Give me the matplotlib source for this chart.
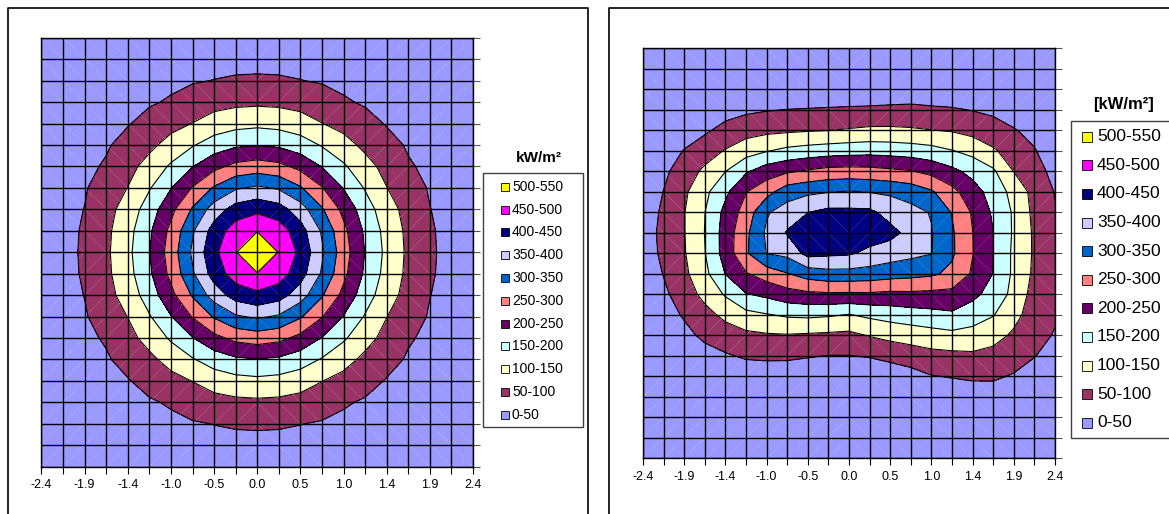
import numpy as np
import matplotlib.pyplot as plt
from matplotlib.patches import Rectangle
from matplotlib.collections import LineCollection

plt.rcParams['font.family'] = ['Liberation Sans', 'DejaVu Sans']

# grid positions along the x axis and their labels (every second one shown)
x_vals = [-2.4, -2.16, -1.92, -1.68, -1.44, -1.2, -0.96, -0.72, -0.48, -0.24, 0.0,
          0.24, 0.48, 0.72, 0.96, 1.2, 1.44, 1.68, 1.92, 2.16, 2.4]
x_labels = ['-2.4', '', '-1.9', '', '-1.4', '', '-1.0', '', '-0.5', '', '0.0',
            '', '0.5', '', '1.0', '', '1.4', '', '1.9', '', '2.4']

bands = ['0-50', '50-100', '100-150', '150-200', '200-250', '250-300',
         '300-350', '350-400', '400-450', '450-500', '500-550']
band_colors = ['#9999FF', '#993366', '#FFFFCC', '#CCFFFF', '#660066', '#FF8080',
               '#0066CC', '#CCCCFF', '#000080', '#FF00FF', '#FFFF00']
levels = [0, 50, 100, 150, 200, 250, 300, 350, 400, 450, 500, 550]

# heat flux, kW/m2 - left chart (rows top to bottom)
flux_left = [
    [5, 8, 11, 14, 17, 19, 21, 23, 24, 25, 25, 25, 24, 23, 21, 19, 17, 14, 11, 8, 5],
    [8, 12, 15, 18, 21, 24, 27, 31, 34, 36, 37, 36, 34, 31, 27, 24, 21, 18, 15, 12, 8],
    [11, 15, 19, 22, 25, 33, 40, 46, 51, 55, 56, 55, 51, 46, 40, 33, 25, 22, 19, 15, 11],
    [14, 18, 22, 27, 37, 45, 55, 72, 83, 89, 91, 89, 83, 72, 55, 45, 37, 27, 22, 18, 14],
    [17, 21, 25, 37, 47, 66, 85, 101, 121, 133, 138, 133, 121, 101, 85, 66, 47, 37, 25, 21, 17],
    [19, 24, 33, 45, 66, 89, 117, 146, 174, 192, 198, 192, 174, 146, 117, 89, 66, 45, 33, 24, 19],
    [21, 27, 40, 55, 85, 117, 157, 198, 236, 263, 273, 263, 236, 198, 157, 117, 85, 55, 40, 27, 21],
    [23, 31, 46, 72, 101, 146, 198, 253, 305, 344, 358, 344, 305, 253, 198, 146, 101, 72, 46, 31, 23],
    [24, 34, 51, 83, 121, 174, 236, 305, 373, 421, 438, 421, 373, 305, 236, 174, 121, 83, 51, 34, 24],
    [25, 36, 55, 89, 133, 192, 263, 344, 421, 475, 498, 475, 421, 344, 263, 192, 133, 89, 55, 36, 25],
    [25, 37, 56, 91, 138, 198, 273, 358, 438, 498, 540, 498, 438, 358, 273, 198, 138, 91, 56, 37, 25],
    [25, 36, 55, 89, 133, 192, 263, 344, 421, 475, 498, 475, 421, 344, 263, 192, 133, 89, 55, 36, 25],
    [24, 34, 51, 83, 121, 174, 236, 305, 373, 421, 438, 421, 373, 305, 236, 174, 121, 83, 51, 34, 24],
    [23, 31, 46, 72, 101, 146, 198, 253, 305, 344, 358, 344, 305, 253, 198, 146, 101, 72, 46, 31, 23],
    [21, 27, 40, 55, 85, 117, 157, 198, 236, 263, 273, 263, 236, 198, 157, 117, 85, 55, 40, 27, 21],
    [19, 24, 33, 45, 66, 89, 117, 146, 174, 192, 198, 192, 174, 146, 117, 89, 66, 45, 33, 24, 19],
    [17, 21, 25, 37, 47, 66, 85, 101, 121, 133, 138, 133, 121, 101, 85, 66, 47, 37, 25, 21, 17],
    [14, 18, 22, 27, 37, 45, 55, 72, 83, 89, 91, 89, 83, 72, 55, 45, 37, 27, 22, 18, 14],
    [11, 15, 19, 22, 25, 33, 40, 46, 51, 55, 56, 55, 51, 46, 40, 33, 25, 22, 19, 15, 11],
    [8, 12, 15, 18, 21, 24, 27, 31, 34, 36, 37, 36, 34, 31, 27, 24, 21, 18, 15, 12, 8],
    [5, 8, 11, 14, 17, 19, 21, 23, 24, 25, 25, 25, 24, 23, 21, 19, 17, 14, 11, 8, 5],
]

# heat flux, kW/m2 - right chart (rows top to bottom)
flux_right = [
    [3, 3, 3, 3, 3, 3, 3, 3, 3, 3, 3, 3, 3, 3, 3, 3, 3, 3, 3, 3, 3],
    [3, 4, 4, 4, 4, 4, 4, 4, 4, 4, 4, 4, 4, 4, 4, 4, 4, 4, 4, 4, 4],
    [4, 5, 5, 4, 5, 5, 6, 8, 10, 11, 12, 11, 15, 19, 16, 13, 12, 8, 8, 6, 5],
    [4, 8, 12, 12, 30, 41, 47, 51, 53, 55, 57, 59, 61, 62, 58, 55, 48, 40, 28, 15, 8],
    [5, 15, 27, 42, 66, 80, 88, 92, 96, 99, 104, 109, 109, 106, 101, 96, 84, 71, 53, 37, 15],
    [10, 26, 52, 77, 103, 129, 147, 162, 170, 176, 180, 183, 180, 175, 167, 152, 135, 106, 79, 53, 25],
    [12, 40, 74, 110, 149, 193, 226, 243, 256, 267, 269, 267, 260, 253, 236, 212, 185, 158, 99, 70, 35],
    [15, 51, 91, 138, 189, 248, 282, 328, 340, 348, 353, 348, 342, 330, 306, 265, 221, 180, 134, 84, 48],
    [18, 60, 98, 149, 214, 271, 345, 372, 399, 413, 412, 410, 382, 365, 347, 297, 245, 193, 144, 88, 53],
    [22, 65, 98, 151, 221, 289, 358, 404, 430, 435, 433, 425, 415, 384, 353, 307, 251, 201, 144, 93, 58],
    [20, 62, 96, 148, 221, 293, 351, 363, 416, 410, 406, 388, 374, 363, 352, 308, 252, 201, 141, 94, 60],
    [15, 52, 89, 137, 201, 246, 274, 297, 322, 333, 333, 329, 321, 315, 308, 288, 244, 199, 141, 91, 60],
    [12, 40, 75, 114, 155, 197, 211, 230, 239, 243, 242, 243, 238, 240, 237, 236, 212, 182, 136, 81, 59],
    [10, 30, 55, 84, 112, 136, 147, 157, 160, 156, 148, 160, 170, 178, 185, 192, 175, 153, 114, 79, 57],
    [8, 20, 37, 60, 77, 89, 95, 97, 94, 91, 88, 103, 114, 122, 130, 137, 131, 116, 93, 70, 46],
    [6, 12, 20, 33, 45, 56, 59, 59, 54, 49, 49, 54, 65, 75, 85, 88, 92, 86, 71, 52, 30],
    [5, 7, 10, 15, 20, 23, 23, 21, 14, 10, 10, 10, 18, 31, 48, 53, 58, 57, 46, 30, 15],
    [4, 5, 6, 8, 10, 11, 11, 10, 8, 7, 7, 7, 8, 12, 15, 19, 23, 27, 20, 12, 8],
    [3, 4, 4, 5, 6, 6, 6, 6, 5, 5, 5, 5, 5, 6, 7, 8, 9, 11, 9, 6, 5],
    [3, 3, 3, 4, 4, 4, 4, 4, 4, 4, 4, 4, 4, 4, 4, 5, 5, 6, 5, 4, 4],
    [3, 3, 3, 3, 3, 3, 3, 3, 3, 3, 3, 3, 3, 3, 3, 3, 3, 4, 4, 3, 3],
]


def draw_map(ax, flux):
    z = np.array(flux, dtype=float)
    rows = np.arange(z.shape[0])
    ax.contourf(x_vals, rows, z, levels=levels, colors=band_colors)
    ax.contour(x_vals, rows, z, levels=levels[1:-1], colors='black', linewidths=0.8)

    # faint triangulation seams, as in the spreadsheet rendering
    n = len(x_vals) - 1
    segs = []
    for i in range(n):
        for j in range(n):
            x0, x1 = x_vals[i], x_vals[i + 1]
            if (i < n // 2) == (j < n // 2):
                segs.append([(x0, j), (x1, j + 1)])
            else:
                segs.append([(x0, j + 1), (x1, j)])
    ax.add_collection(LineCollection(segs, colors='white', linewidths=0.5, alpha=0.18))

    ax.vlines(x_vals, 0, rows[-1], colors='black', linewidth=1.0)
    ax.hlines(rows, x_vals[0], x_vals[-1], colors='black', linewidth=1.0)
    ax.set_xlim(x_vals[0], x_vals[-1])
    ax.set_ylim(rows[-1], 0)
    ax.set_xticks(x_vals)
    ax.set_xticklabels(x_labels, fontsize=9)
    ax.set_yticks(rows)
    ax.yaxis.tick_right()
    ax.tick_params(axis='y', labelright=False, length=5, width=0.8, color='#555555')
    ax.tick_params(axis='x', length=5, width=0.8, pad=4)
    for s in ax.spines.values():
        s.set_linewidth(1.0)


def draw_legend(ov, title, box, x_mark, size, y0, step, x_text, fs, title_xy, title_fs):
    ov.add_patch(Rectangle((box[0], box[1]), box[2], box[3], facecolor='white',
                           edgecolor='#404040', linewidth=1.0))
    ov.text(title_xy[0], title_xy[1], title, ha='center', va='center',
            fontsize=title_fs, fontweight='bold')
    for k in range(len(bands)):
        idx = len(bands) - 1 - k
        y = y0 + step * k
        ov.add_patch(Rectangle((x_mark, y - size / 2), size, size,
                               facecolor=band_colors[idx], edgecolor='black', linewidth=0.6))
        ov.text(x_text, y, bands[idx], ha='left', va='center', fontsize=fs)


fig = plt.figure(figsize=(11.69, 5.14), dpi=100)

ax1 = fig.add_axes([0.0355, 0.0920, 0.3691, 0.8346])
draw_map(ax1, flux_left)

ax2 = fig.add_axes([0.5500, 0.1084, 0.3524, 0.7977])
draw_map(ax2, flux_right)

ov = fig.add_axes([0, 0, 1, 1])
ov.set_xlim(0, 1169)
ov.set_ylim(514, 0)
ov.axis('off')

# chart frames
ov.plot([7.5, 7.5, 587.5, 587.5], [520, 7.5, 7.5, 520], color='black', lw=1.2)
ov.plot([608.5, 608.5, 1180], [520, 7.5, 7.5], color='black', lw=1.2)

draw_legend(ov, 'kW/m²', (483, 173.3, 100, 253.4), 501, 8, 186.7, 22.8, 512, 10,
            (539, 158), 11)
draw_legend(ov, '[kW/m²]', (1070.7, 120.7, 110, 317), 1082, 10, 136.7, 28.6, 1097, 12.5,
            (1123, 105), 12)

fig.savefig('out.png', dpi=100)
